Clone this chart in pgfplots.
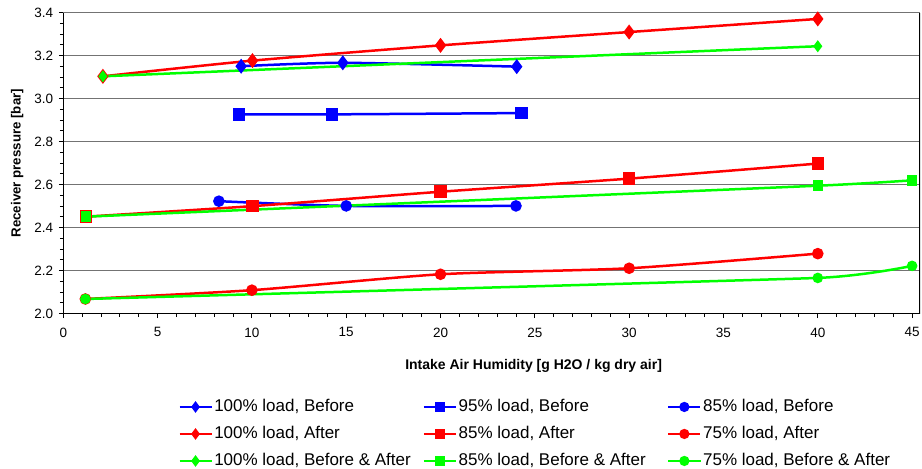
\documentclass[border=0pt]{standalone}
\usepackage{pgfplots}
\pgfplotsset{compat=1.18}
\usepackage{fontspec}
\setmainfont{Liberation Sans}
\definecolor{cb}{RGB}{0,0,255}
\definecolor{cr}{RGB}{255,0,0}
\definecolor{cg}{RGB}{0,255,0}
\newcommand\legtxt[1]{\makebox[207pt][l]{#1}}
\begin{document}
\begin{tikzpicture}
\begin{axis}[
  name=ax,
  scale only axis,
  width=857pt, height=301pt,
  xmin=0, xmax=45.42, ymin=2.0, ymax=3.4,
  axis x line*=bottom, axis y line*=left,
  axis line style={black, line width=1.2pt},
  xtick={0,5,...,45}, ytick={2.0,2.2,...,3.4},
  minor x tick num=4, minor y tick num=3,
  tick align=outside,
  major tick length=4.5pt, minor tick length=3.5pt,
  tick style={black, line width=0.9pt},
  ymajorgrids,
  major grid style={black!55, line width=1pt},
  /pgf/number format/assume math mode=true,
  yticklabel style={/pgf/number format/fixed, /pgf/number format/fixed zerofill, /pgf/number format/precision=1, xshift=-2pt},
  ticklabel style={font=\fontsize{13.5}{16}\selectfont},
  xticklabel style={yshift=-6pt},
  xlabel={\textbf{Intake Air Humidity [g H2O / kg dry air]}},
  ylabel={\textbf{Receiver pressure [bar]}},
  every axis x label/.style={at={(axis description cs:0.549,-0.174)}, anchor=center, font=\fontsize{14}{16}\selectfont},
  every axis y label/.style={at={(axis description cs:-0.0537,0.5)}, rotate=90, anchor=center, font=\fontsize{13.3}{16}\selectfont},
  every axis plot/.append style={line width=2.5pt, smooth, tension=0.4},
  legend columns=3,
  legend cell align=left,
  legend image code/.code={\draw[mark repeat=2,mark phase=2,#1] plot coordinates {(0pt,0pt)(16pt,0pt)(32pt,0pt)};},
  legend image post style={mark size=3.8pt},
  legend style={at={(axis description cs:0.134,-0.283)}, anchor=north west, draw=none, fill=none,
    inner sep=0pt, row sep=11pt, font=\fontsize{17}{20}\selectfont,
    nodes={inner xsep=1.5pt, inner ysep=0pt, text height=12.5pt, text depth=3.5pt}},
]
\addplot[cb, mark=diamond*, mark size=5.5pt, mark options={solid}] coordinates {(9.43,3.151) (14.82,3.167) (24.04,3.149)};
\addlegendentry{\legtxt{100\% load, Before}}
\addplot[cb, mark=square*, mark size=5pt, mark options={solid}] coordinates {(9.31,2.927) (14.24,2.927) (24.3,2.933)};
\addlegendentry{\legtxt{95\% load, Before}}
\addplot[cb, mark=*, mark size=4.5pt, mark options={solid}] coordinates {(8.25,2.523) (15.0,2.501) (24.0,2.501)};
\addlegendentry{\legtxt{85\% load, Before}}
\addplot[cr, mark=diamond*, mark size=5.5pt, mark options={solid}] coordinates {(2.10,3.104) (10.03,3.177) (20.0,3.248) (30.0,3.310) (40.0,3.371)};
\addlegendentry{\legtxt{100\% load, After}}
\addplot[cr, mark=square*, mark size=5pt, mark options={solid}] coordinates {(1.2,2.451) (10.03,2.500) (20.0,2.567) (30.0,2.628) (40.0,2.698)};
\addlegendentry{\legtxt{85\% load, After}}
\addplot[cr, mark=*, mark size=4.5pt, mark options={solid}] coordinates {(1.17,2.068) (10.0,2.109) (20.0,2.183) (30.0,2.211) (40.0,2.279)};
\addlegendentry{\legtxt{75\% load, After}}
\addplot[cg, mark=diamond*, mark size=4pt, mark options={solid}] coordinates {(2.1,3.104) (40,3.244)};
\addlegendentry{\legtxt{100\% load, Before \& After}}
\addplot[cg, mark=square*, mark size=4pt, mark options={solid}, tension=0.2] coordinates {(1.2,2.451) (40,2.595) (45,2.620)};
\addlegendentry{\legtxt{85\% load, Before \& After}}
\addplot[cg, mark=*, mark size=4pt, mark options={solid}, tension=0.2] coordinates {(1.17,2.068) (40,2.166) (45,2.222)};
\addlegendentry{\legtxt{75\% load, Before \& After}}
\draw[black, line width=2pt] (rel axis cs:1,0) -- (rel axis cs:1,1);
\end{axis}
\pgfresetboundingbox
\path ([shift={(-63.3pt,-155.3pt)}]ax.south west) rectangle ([shift={(2pt,12.7pt)}]ax.north east);
\end{tikzpicture}
\end{document}
